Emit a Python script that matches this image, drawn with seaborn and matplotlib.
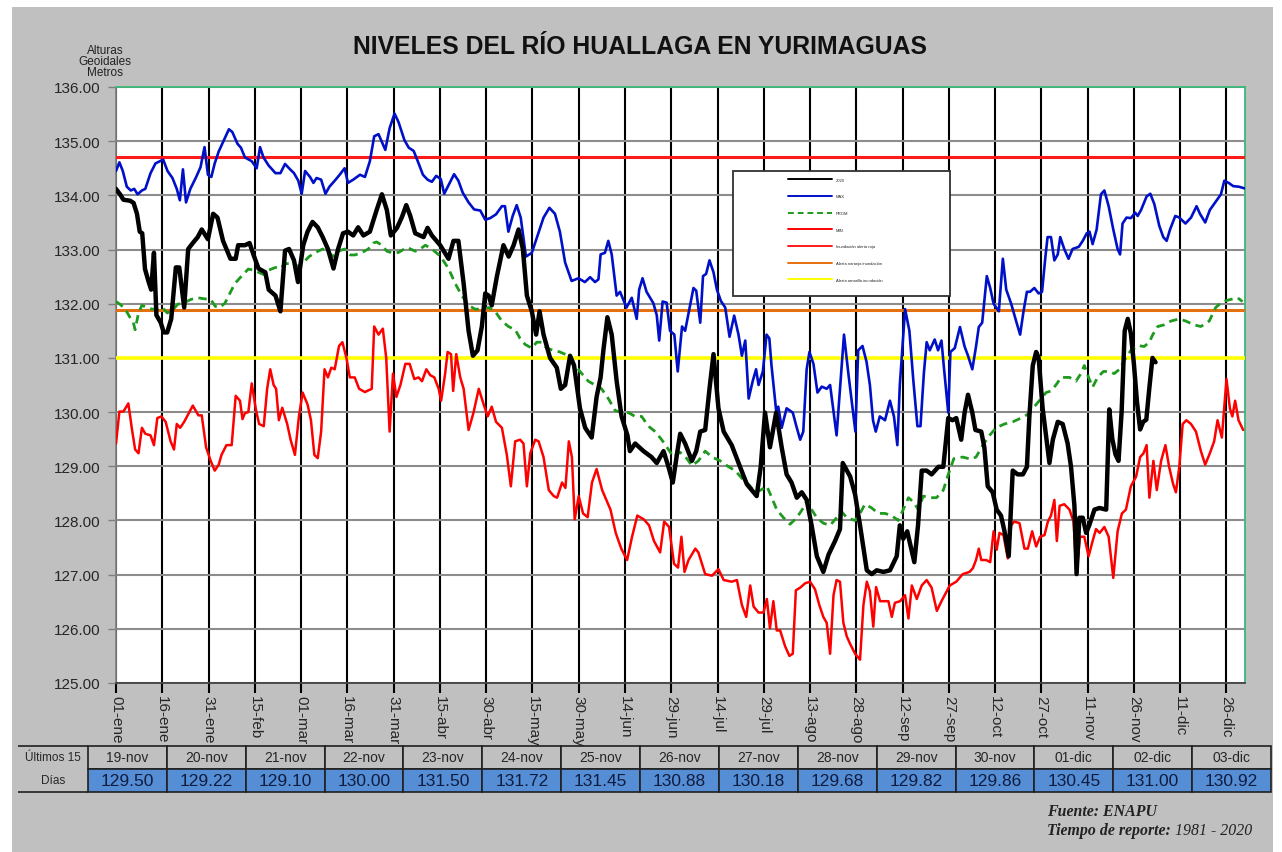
import matplotlib
matplotlib.use("Agg")
import matplotlib.pyplot as plt
import seaborn as sns
import pandas as pd
from matplotlib.patches import Rectangle
from matplotlib import font_manager

# ---------------- data ----------------
dias_2020 = [0, 1.3, 2.4, 4.6, 5.7, 6.8, 7.7, 8.5, 9.4, 10.6, 11.4, 12.3, 13.1, 14.5, 15.5, 16.6, 17.9, 19.4, 20.5, 22.1,
             23.4, 24.9, 26.5, 27.8, 29.8, 31.5, 32.9, 34.7, 37.1, 38.8, 39.6, 41.8, 43.3, 44.6, 46.2, 48.4, 49.5, 51.7,
             53.3, 54.8, 56.1, 57.7, 59.0, 60.7, 62.1, 63.7, 65.4, 67.0, 68.7, 70.5, 72.0, 73.6, 75.2, 76.9, 78.5, 80.2,
             82.3, 84.5, 86.2, 87.8, 89.1, 91.1, 92.7, 94.1, 95.4, 97, 99.7, 101, 102.4, 105.1, 107.8, 109.4, 111, 112.7,
             114.3, 115.7, 117.2, 118.6, 119.7, 120.8, 121.8, 123.5, 125.6, 127.3, 128.9, 130.5, 131.9, 133.2, 134.8,
             136.2, 137.3, 138.6, 140.7, 142.9, 144.2, 145.6, 147.2, 148.5, 150.4, 152.1, 154.2, 155.8, 157.1, 158,
             159.3, 160.7, 162.3, 163.9, 165.8, 166.6, 168.3, 171, 173.6, 175.3, 177.5, 179.1, 180.5, 182, 182.9, 184.5,
             186.7, 188.1, 189.4, 191, 192.4, 193.7, 195.3, 197, 199.6, 202.3, 204.5, 207.7, 209, 210.4, 212, 214,
             215.8, 217.4, 219, 220.7, 222.3, 223.9, 225.5, 227.2, 229.3, 231, 233.1, 234.7, 235.6, 238, 239.6, 241.2,
             243.4, 245, 246.6, 248.8, 250.9, 253.1, 254.1, 255.2, 256.5, 258.8, 260, 261.2, 262.8, 264.4, 266.6,
             268.2, 269.8, 271.2, 272.4, 274, 275.1, 276.2, 277.6, 278.6, 280.5, 281.5, 282.6, 284.2, 285.5, 286.9,
             288, 289.4, 290.7, 292.3, 294, 295.3, 296.1, 297.2, 298.3, 299.1, 300.4, 302.6, 303.7, 305.3, 306.9,
             308.5, 309.6, 310.7, 311.4, 312.3, 313.4, 314.5, 315.5, 317.2, 318.8, 321, 322]
nivel_2020 = [134.12, 134.02, 133.92, 133.9, 133.86, 133.66, 133.33, 133.3, 132.64, 132.4, 132.26, 132.94, 131.79,
              131.65, 131.47, 131.47, 131.72, 132.67, 132.67, 131.93, 133.01, 133.12, 133.23, 133.37, 133.19, 133.66,
              133.59, 133.16, 132.83, 132.83, 133.08, 133.08, 133.12, 132.9, 132.65, 132.58, 132.26, 132.15, 131.86,
              132.98, 133.01, 132.8, 132.4, 133.08, 133.33, 133.51, 133.41, 133.23, 133.01, 132.65, 133.01, 133.3,
              133.33, 133.26, 133.41, 133.26, 133.33, 133.73, 134.02, 133.73, 133.26, 133.4, 133.6, 133.82, 133.62,
              133.3, 133.23, 133.4, 133.26, 133.08, 132.83, 133.16, 133.16, 132.37, 131.5, 131.04, 131.14, 131.58,
              132.19, 132.15, 131.97, 132.51, 133.08, 132.87, 133.08, 133.37, 133.01, 132.15, 131.86, 131.43, 131.86,
              131.43, 131.0, 130.82, 130.43, 130.5, 131.04, 130.86, 130.07, 129.71, 129.53, 130.28, 130.64, 131.14,
              131.75, 131.43, 130.57, 129.92, 129.57, 129.28, 129.42, 129.28, 129.17, 129.06, 129.28, 128.99, 128.7,
              129.28, 129.6, 129.42, 129.1, 129.28, 129.64, 129.67, 130.43, 131.07, 130.07, 129.64, 129.39, 128.99,
              128.67, 128.45, 128.99, 129.99, 129.35, 129.99, 129.35, 128.85, 128.7, 128.42, 128.52, 128.38, 127.91,
              127.34, 127.05, 127.37, 127.62, 127.84, 129.06, 128.81, 128.48, 127.91, 127.08, 127.01, 127.08, 127.05,
              127.08, 127.34, 127.91, 127.66, 127.8, 127.23, 127.91, 128.92, 128.92, 128.85, 128.99, 128.99, 129.89,
              129.85, 129.89, 129.49, 129.99, 130.32, 129.99, 129.67, 129.64, 129.35, 128.63, 128.52, 128.2, 128.09,
              127.81, 127.34, 128.92, 128.85, 128.85, 128.99, 129.92, 130.86, 131.11, 131.0, 130.07, 129.06, 129.49,
              129.82, 129.78, 129.42, 128.99, 128.27, 127.01, 128.05, 128.05, 127.77, 127.91, 128.2, 128.23, 128.2,
              130.05]

dias_max = [0, 1.1, 2.2, 3.5, 4.8, 5.9, 7, 8.4, 9.5, 11.2, 12.8, 14.2, 15.3, 16.7, 18.3, 19.7, 20.7, 21.7, 22.7, 24.1,
            26, 27.4, 28.7, 29.8, 30.9, 32, 33.3, 35, 36.6, 37.7, 39.4, 40.5, 41.8, 44, 45.6, 46.7, 47.8, 49.5, 51.7,
            53.3, 54.8, 56.1, 57.7, 59.1, 60.2, 61.3, 62.9, 64, 65, 66.5, 67.9, 69.2, 71.2, 72.5, 74.1, 75.2, 76.9,
            79.1, 80.7, 82.3, 83.7, 85.1, 87.3, 88.7, 90.3, 91.6, 93.5, 94.9, 96.5, 98.1, 99.5, 101, 102.4, 103.8,
            105.3, 106.4, 108.1, 109.6, 111, 112.4, 114.3, 116.1, 118.1, 119.7, 121.3, 123.2, 125.1, 126.1, 127.2,
            128.6, 129.9, 131.2, 132.9, 134.8, 136.9, 138.6, 140.5, 142.3, 143.9, 145.6, 147.7, 149.9, 152, 153.7,
            155.3, 156.4, 157.1, 158.5, 159.6, 160.7, 162.3, 163.4, 165.5, 167.2, 168.8, 169.6, 170.7, 172, 174.2,
            175.3, 176.1, 177.2, 178.5, 179.6, 181, 182.1, 183.5, 184.5, 185.6, 187.2, 188.1, 189.4, 190.3, 191.3,
            192.4, 193.7, 194.8, 196.1, 197.5, 198.9, 200.4, 201.8, 202.9, 204, 205.1, 206.4, 207.5, 208.3, 209.7,
            210.9, 211.8, 212.5, 214, 214.7, 215.8, 217.4, 219.4, 220.7, 221.8, 222.8, 223.9, 224.8, 226.1, 227.4,
            228.8, 230.4, 231.5, 232.8, 233.6, 235, 236, 237.4, 238.5, 239.7, 240.6, 242, 243.3, 244.4, 245.4, 246.3,
            247.6, 249.3, 250.9, 252.2, 253.3, 254.1, 255.8, 257.2, 258.5, 259.8, 260.8, 261.9, 262.8, 263.8, 265.4,
            266.5, 267.6, 268.4, 269.8, 270.5, 271.9, 273.6, 275.1, 276.2, 277.6, 278.8, 279.7, 280.8, 282.3, 283.4,
            284.5, 286.2, 287.5, 288.6, 290.2, 291.8, 293.1, 294.2, 295.3, 296.3, 297.7, 299.1, 300.2, 301.3, 302,
            303.1, 304.2, 305.3, 306.1, 307.4, 308.8, 310.1, 312.1, 313.4, 314.7, 315.6, 316.6, 317.9, 319.3, 320.4,
            321.8, 323.3, 324.7, 325.5, 326.3, 327.6, 329, 330.4, 331.2, 332.3, 334.1, 335.3, 336.6, 338.2, 339.5,
            340.6, 341.7, 343.4, 344.7, 346.7, 348.5, 350.3, 351.4, 353.1, 354.6, 356.6, 358.2, 359.3, 360.7, 362.2,
            364, 365.8]
nivel_max = [134.45, 134.61, 134.45, 134.16, 134.09, 134.12, 134.02, 134.09, 134.12, 134.41, 134.59, 134.63, 134.66,
             134.45, 134.32, 134.12, 133.91, 134.48, 133.87, 134.12, 134.34, 134.52, 134.89, 134.38, 134.34, 134.59,
             134.81, 135.02, 135.22, 135.17, 134.95, 134.88, 134.7, 134.63, 134.5, 134.89, 134.7, 134.55, 134.41,
             134.41, 134.58, 134.5, 134.41, 134.27, 134.03, 134.45, 134.34, 134.23, 134.32, 134.29, 134.03, 134.16,
             134.29, 134.38, 134.5, 134.23, 134.29, 134.38, 134.34, 134.63, 135.09, 135.13, 134.84, 135.24, 135.51,
             135.35, 135.02, 134.88, 134.82, 134.59, 134.38, 134.29, 134.25, 134.36, 134.3, 134.03, 134.22, 134.39,
             134.27, 134.05, 133.87, 133.74, 133.72, 133.55, 133.58, 133.65, 133.8, 133.8, 133.33, 133.62, 133.82,
             133.59, 132.87, 132.94, 133.3, 133.59, 133.77, 133.66, 133.33, 132.76, 132.42, 132.47, 132.4, 132.49,
             132.4, 132.45, 132.91, 132.94, 133.16, 132.91, 132.15, 132.22, 131.93, 132.11, 131.72, 132.26, 132.47,
             132.22, 132.01, 131.79, 131.32, 132.04, 132.02, 131.5, 131.43, 130.75, 131.58, 131.5, 131.82, 132.29,
             132.24, 131.65, 132.51, 132.55, 132.8, 132.58, 132.26, 132.05, 131.93, 131.39, 131.78, 131.43, 131.04,
             131.32, 130.25, 130.57, 130.79, 130.5, 130.75, 131.43, 131.36, 130.86, 130.03, 130.1, 129.71, 130.07,
             129.99, 129.71, 129.49, 129.64, 130.79, 131.11, 130.89, 130.36, 130.47, 130.43, 130.5, 129.92, 129.57,
             130.64, 131.43, 130.72, 130.21, 129.64, 131.14, 131.22, 130.93, 130.5, 129.85, 129.64, 129.92, 129.85,
             130.21, 129.92, 129.39, 130.5, 131.9, 131.5, 130.57, 129.74, 129.74, 130.72, 131.29, 131.14, 131.34,
             131.14, 131.32, 130.82, 129.99, 131.11, 131.18, 131.57, 131.21, 131.04, 130.79, 131.21, 131.57, 131.65,
             132.51, 132.29, 132.0, 131.86, 132.83, 132.26, 132.0, 131.68, 131.43, 131.86, 132.22, 132.22, 132.29,
             132.19, 132.22, 132.87, 133.23, 133.23, 132.8, 132.91, 133.23, 133.01, 132.83, 133.01, 133.05, 133.16,
             133.3, 133.33, 133.1, 133.37, 134.02, 134.09, 133.8, 133.37, 133.01, 132.91, 133.48, 133.59, 133.58,
             133.68, 133.62, 133.73, 133.98, 134.03, 133.84, 133.44, 133.23, 133.16, 133.37, 133.62, 133.59, 133.48,
             133.59, 133.8, 133.66, 133.5, 133.73, 133.89, 134.02, 134.27, 134.23, 134.17, 134.16, 134.13]

dias_prom = [0, 1.3, 3, 4.4, 5.5, 6.2, 7.3, 8.4, 10.1, 11.7, 13.4, 15, 16.6, 18.3, 20, 22.1, 24.3, 26.5, 28.7, 30.7,
             32.2, 33.6, 35.3, 36.9, 38.5, 40.7, 42.9, 44.6, 46.2, 47.8, 49.5, 51.7, 53.3, 54.9, 57.2, 58.8, 60.7,
             62.6, 64.8, 67, 68.7, 70.3, 72, 74.1, 76, 77.4, 79.6, 81.8, 83.4, 84.5, 86.2, 87.8, 90, 91.7, 94.3, 97,
             98.6, 100.3, 102.4, 105.1, 107.8, 110, 112.1, 114.3, 116.4, 118.6, 120.8, 122.9, 125.1, 127.2, 129.4,
             131, 132.6, 134.8, 136.4, 138, 139.6, 141.8, 143.9, 146.7, 148.8, 151, 153.1, 155.3, 157.4, 159.6,
             161.8, 163.9, 166.1, 168.3, 170.4, 172.6, 174.8, 176.9, 179.1, 180.7, 182.8, 185.1, 186.7, 188.8, 191,
             193.2, 195.9, 198.6, 200.7, 202.9, 205, 207.2, 209, 211, 212.6, 214.2, 216.4, 218.5, 220.7, 222.8, 224.1,
             225.5, 227.2, 229.3, 231.5, 233.6, 235.3, 236.9, 239.6, 241.2, 242.8, 245, 247.1, 249.3, 251.4, 253.6,
             255.2, 256.9, 258.5, 260.1, 261.7, 263.8, 266, 268.2, 269.8, 271.6, 274.5, 277.2, 278.8, 281, 283.2,
             285.3, 288, 290.7, 293.4, 295.6, 297.7, 299.3, 301.5, 303.1, 304.7, 306.4, 309.1, 311.2, 312.8, 313.9,
             315.3, 316.6, 318.2, 320.1, 322, 323.6, 325.3, 326.9, 329, 331.2, 333.3, 335, 336.1, 337.7, 339.8, 342,
             344.7, 346.8, 349.5, 351.7, 354.4, 356.5, 358.7, 361.4, 363.6, 365.2]
nivel_prom = [132.04, 131.99, 131.9, 131.76, 131.68, 131.52, 131.83, 131.97, 131.93, 131.9, 131.9, 131.93, 131.83,
              131.88, 131.99, 132.02, 132.08, 132.11, 132.09, 132.08, 131.95, 131.93, 132.01, 132.19, 132.37, 132.51,
              132.64, 132.62, 132.58, 132.54, 132.62, 132.67, 132.65, 132.74, 132.74, 132.69, 132.76, 132.87, 132.95,
              133.01, 132.97, 132.87, 132.97, 133.01, 132.9, 132.9, 132.94, 133.01, 133.12, 133.14, 133.08, 132.97,
              132.93, 132.95, 133.04, 132.97, 133.01, 133.08, 133.01, 132.88, 132.65, 132.37, 132.15, 131.97, 131.9,
              131.9, 131.93, 131.86, 131.68, 131.58, 131.52, 131.36, 131.25, 131.18, 131.29, 131.29, 131.18, 131.14,
              131.11, 131.04, 130.86, 130.71, 130.57, 130.5, 130.43, 130.25, 130.03, 129.99, 129.99, 129.92, 129.92,
              129.74, 129.64, 129.49, 129.31, 129.17, 129.26, 129.14, 129.01, 129.1, 129.28, 129.17, 129.1, 128.99,
              128.92, 128.78, 128.67, 128.52, 128.56, 128.63, 128.42, 128.2, 128.05, 127.93, 128.05, 128.23, 128.38,
              128.2, 128.05, 127.95, 127.91, 128.05, 128.16, 128.05, 128.0, 128.13, 128.3, 128.23, 128.13, 128.13,
              128.09, 128.0, 128.2, 128.42, 128.34, 128.2, 128.45, 128.42, 128.42, 128.56, 128.85, 129.14, 129.17,
              129.13, 129.17, 129.39, 129.57, 129.71, 129.78, 129.82, 129.89, 129.96, 130.1, 130.21, 130.36, 130.39,
              130.5, 130.64, 130.64, 130.57, 130.71, 130.86, 130.64, 130.46, 130.64, 130.75, 130.75, 130.71, 130.79,
              130.96, 131.14, 131.23, 131.21, 131.29, 131.43, 131.58, 131.61, 131.68, 131.72, 131.68, 131.61, 131.58,
              131.68, 131.93, 132.04, 132.08, 132.11, 132.04]

dias_min = [0, 1.1, 2.4, 4, 5.1, 6.2, 7.3, 8.4, 9.5, 11.2, 12.3, 13.4, 14.7, 16.1, 17.7, 18.8, 19.7, 20.8, 22.1, 23.4,
            24.9, 26.7, 27.8, 29.2, 30.7, 32, 33.3, 34.2, 35.8, 37.5, 38.8, 40.2, 41, 41.8, 42.9, 44, 45.4, 46.4, 47.9,
            49, 50, 51.1, 51.9, 52.8, 53.9, 55.5, 56.6, 58, 59.3, 60.5, 62.1, 63.2, 64.3, 65.4, 66.5, 67.6, 68.7,
            69.8, 70.9, 72.3, 73.4, 74.7, 75.8, 77.4, 78.8, 80.7, 82.9, 83.7, 85.1, 86.5, 87.6, 88.7, 89.8, 90.9,
            92.2, 93.8, 95.2, 96.7, 98.1, 99.2, 100.6, 101.9, 103.2, 104.6, 105.4, 106.7, 107.5, 108.6, 109.3, 110.3,
            111.6, 112.7, 114.3, 115.9, 117.6, 119.2, 120.5, 121.8, 123.2, 125.1, 126.7, 128, 129.4, 131, 132.1,
            133.2, 134.3, 135.9, 137, 138.6, 140.3, 141.9, 143, 144.6, 145.7, 146.8, 147.8, 148.7, 150, 151.4, 152.9,
            154.3, 155.8, 157.6, 160.3, 162, 163.8, 165.7, 167.3, 169, 171.1, 172.8, 174.4, 176.4, 177.7, 179.3,
            180.9, 182.2, 183.3, 184.3, 185.6, 187.8, 188.8, 191, 193.2, 195.3, 197, 199.6, 201.3, 202.9, 204.3,
            205.6, 206.7, 208.3, 209.9, 211, 212, 213.1, 214.2, 215.3, 216.9, 218.3, 219.4, 220.4, 221.8, 223.4, 225,
            226.6, 228, 229.3, 230.4, 231.5, 232.6, 233.6, 234.7, 235.8, 236.9, 238, 239.6, 241.2, 242.3, 243.4,
            244.4, 245.5, 246.4, 247.7, 249.3, 250.4, 251.5, 252.5, 254.2, 255.8, 256.9, 258, 259.6, 261.2, 262.8,
            264.4, 266.1, 267.6, 269.3, 270.3, 272.4, 274.5, 276.7, 277.8, 278.8, 279.7, 280.5, 282.1, 283.4, 284.5,
            285.5, 286.4, 287.7, 289.1, 290.2, 291.2, 292.9, 294.5, 295.6, 297, 298.3, 299.6, 301, 302.1, 303.1,
            304.2, 305, 305.9, 307.4, 309.1, 310.4, 311.4, 312.5, 313.9, 315.3, 316.6, 317.7, 318.9, 320.4, 321.8,
            323.3, 324.7, 326.1, 327.4, 329, 330.7, 332, 333.1, 334.1, 335, 336.3, 337.4, 338.8, 340.2, 341.4,
            342.7, 343.6, 344.7, 345.8, 347, 348.5, 350.1, 351.7, 353.1, 354.6, 356, 357.1, 358.5, 360, 361.1,
            361.9, 362.8, 363.9, 365.4]
nivel_min = [129.42, 130.01, 130.01, 130.16, 129.71, 129.31, 129.24, 129.71, 129.6, 129.57, 129.39, 129.89, 129.92,
             129.82, 129.46, 129.31, 129.78, 129.71, 129.82, 129.96, 130.12, 129.94, 129.94, 129.35, 129.1, 128.92,
             129.03, 129.21, 129.39, 129.39, 130.3, 130.21, 129.87, 129.98, 130.0, 130.53, 130.03, 129.78, 129.74,
             130.43, 130.79, 130.5, 130.43, 129.85, 130.08, 129.78, 129.49, 129.21, 129.92, 130.36, 130.14, 129.85,
             129.21, 129.15, 129.64, 130.79, 130.64, 130.82, 130.79, 131.22, 131.29, 131.0, 130.64, 130.64, 130.43,
             130.37, 130.43, 131.58, 131.43, 131.54, 131.0, 129.64, 130.71, 130.28, 130.5, 130.89, 130.89, 130.61,
             130.64, 130.57, 130.79, 130.68, 130.64, 130.43, 130.21, 130.71, 131.11, 131.07, 130.39, 131.07, 130.64,
             130.43, 129.67, 129.99, 130.43, 130.14, 129.92, 130.1, 129.82, 129.71, 129.21, 128.63, 129.46, 129.49,
             129.42, 128.63, 129.24, 129.49, 129.46, 129.17, 128.56, 128.45, 128.42, 128.7, 128.6, 129.46, 129.17,
             128.02, 128.45, 128.13, 128.06, 128.7, 128.95, 128.56, 128.2, 127.77, 127.48, 127.27, 127.7, 128.09,
             128.02, 127.91, 127.62, 127.41, 127.98, 127.88, 127.2, 127.13, 127.7, 127.05, 127.27, 127.48, 127.41,
             127.01, 126.98, 127.1, 126.9, 126.87, 126.9, 126.44, 126.22, 126.8, 126.41, 126.3, 126.3, 126.55,
             126.01, 126.51, 125.97, 125.97, 125.68, 125.5, 125.54, 126.71, 126.76, 126.84, 126.87, 126.73, 126.44,
             126.22, 126.11, 125.54, 126.62, 126.9, 126.87, 126.11, 125.86, 125.72, 125.54, 125.43, 126.44, 126.87,
             126.69, 126.04, 126.77, 126.51, 126.51, 126.51, 126.22, 126.48, 126.51, 126.62, 126.19, 126.8, 126.55,
             126.8, 126.9, 126.76, 126.33, 126.51, 126.69, 126.8, 126.87, 127.01, 127.05, 127.12, 127.27, 127.48,
             127.27, 127.27, 127.23, 127.8, 127.46, 127.77, 127.73, 127.3, 127.91, 127.98, 127.95, 127.48, 127.48,
             127.8, 127.52, 127.7, 127.73, 127.98, 128.09, 128.38, 127.62, 128.27, 128.3, 128.2, 127.98, 127.01,
             127.7, 127.7, 127.34, 127.62, 127.84, 127.77, 127.88, 127.7, 126.94, 127.8, 128.13, 128.2, 128.63,
             128.81, 129.17, 129.24, 129.39, 128.42, 129.1, 128.56, 129.1, 129.39, 128.99, 128.67, 128.52, 128.99,
             129.78, 129.85, 129.78, 129.64, 129.28, 129.03, 129.24, 129.46, 129.85, 129.53, 130.61, 130.07, 129.92,
             130.21, 129.85, 129.67]

umbrales = [134.70, 131.88, 131.00]
umbral_etiquetas = ["Inundación alerta roja", "Alerta naranja inundación", "Alerta amarilla inundación"]

fechas_tick = ["01-ene", "16-ene", "31-ene", "15-feb", "01-mar", "16-mar", "31-mar", "15-abr", "30-abr", "15-may",
               "30-may", "14-jun", "29-jun", "14-jul", "29-jul", "13-ago", "28-ago", "12-sep", "27-sep", "12-oct",
               "27-oct", "11-nov", "26-nov", "11-dic", "26-dic"]
dias_tick = [15 * i for i in range(len(fechas_tick))]

ultimas_fechas = ["19-nov", "20-nov", "21-nov", "22-nov", "23-nov", "24-nov", "25-nov", "26-nov", "27-nov", "28-nov",
                  "29-nov", "30-nov", "01-dic", "02-dic", "03-dic"]
ultimos_valores = [129.50, 129.22, 129.10, 130.00, 131.50, 131.72, 131.45, 130.88, 130.18, 129.68, 129.82, 129.86,
                   130.45, 131.00, 130.92]
dia_19nov = 323  # day index of 19-nov in 2020 (leap year)

# ---------------- style ----------------
sns.set_theme(style="white")
plt.rcParams["font.family"] = ["Liberation Sans", "DejaVu Sans"]


def has_font(name):
    try:
        font_manager.findfont(name, fallback_to_default=False)
        return True
    except Exception:
        return False


narrow = ["Liberation Sans Narrow", "Liberation Sans", "DejaVu Sans"] if has_font("Liberation Sans Narrow") \
    else ["Liberation Sans", "DejaVu Sans"]

W, H = 1282, 853
fig = plt.figure(figsize=(W / 100, H / 100), dpi=100, facecolor="white")
bg = Rectangle((12 / W, 0), (1273 - 12) / W, 1 - 8 / H, transform=fig.transFigure,
               facecolor="#c0c0c0", edgecolor="none", zorder=-10)
fig.patches.append(bg)

ax = fig.add_axes([116 / W, 1 - 684 / H, (1245 - 116) / W, (684 - 88) / H])
ax.set_facecolor("white")

d2020 = pd.DataFrame({"dia": dias_2020 + [dia_19nov + i for i in range(len(ultimos_valores))],
                      "nivel": nivel_2020 + ultimos_valores})
dmax = pd.DataFrame({"dia": dias_max, "nivel": nivel_max})
dprom = pd.DataFrame({"dia": dias_prom, "nivel": nivel_prom})
dmin = pd.DataFrame({"dia": dias_min, "nivel": nivel_min})

sns.lineplot(data=d2020, x="dia", y="nivel", ax=ax, color="black", lw=3.2, label="2020", zorder=6, estimator=None)
sns.lineplot(data=dmax, x="dia", y="nivel", ax=ax, color="#0010c8", lw=1.9, label="MAX", zorder=5, estimator=None)
sns.lineplot(data=dprom, x="dia", y="nivel", ax=ax, color="#1e9a1e", lw=2.0, linestyle=(0, (3, 2)),
             label="PROM", zorder=5, estimator=None)
sns.lineplot(data=dmin, x="dia", y="nivel", ax=ax, color="#ff0000", lw=1.8, label="MIN", zorder=5, estimator=None)
for val, lab, col, lw in zip(umbrales, umbral_etiquetas, ["#ff1a1a", "#e5700f", "#ffff00"], [2.2, 2.2, 2.6]):
    ax.axhline(val, color=col, lw=lw, label=lab, zorder=3)

ax.set_xlim(0, 366)
ax.set_ylim(125, 136)
ax.set_xticks(dias_tick)
ax.set_xticklabels(fechas_tick, rotation=270, ha="center", va="top", fontsize=11)
ax.set_yticks(range(125, 137))
ax.set_yticklabels([f"{v:.2f}" for v in range(125, 137)], fontsize=11)
ax.tick_params(axis="x", length=7, width=1.5, color="black", pad=2, bottom=True)
ax.tick_params(axis="y", length=6, width=1, color="#808080", pad=5, left=True)
ax.set_xlabel("")
ax.set_ylabel("")
ax.grid(axis="y", color="#8c8c8c", lw=1.5)
ax.grid(axis="x", color="black", lw=1.5)
ax.set_axisbelow(True)
for s in ["top", "right"]:
    ax.spines[s].set_color("#3cb878")
    ax.spines[s].set_linewidth(1.3)
ax.spines["left"].set_color("#808080")
ax.spines["bottom"].set_color("#404040")

# legend box + legend
ax.add_patch(Rectangle((0.5465, 0.6493), 0.1922, 0.2097, transform=ax.transAxes, facecolor="white",
                       edgecolor="#303030", lw=1.3, zorder=7))
leg = ax.legend(loc="upper left", bbox_to_anchor=(0.5952, 0.848), fontsize=3, frameon=False, handlelength=10.5,
                handletextpad=1.0, labelspacing=3.05, borderpad=0, borderaxespad=0)
leg.set_zorder(8)
for ln in leg.get_lines():
    ln.set_linewidth(1.4)

# titles
fig.text(640 / W, 1 - 47 / H, "NIVELES DEL RÍO HUALLAGA EN YURIMAGUAS", ha="center", va="center",
         fontsize=17.8, fontweight="bold", color="#111111")
fig.text(105 / W, 1 - 62 / H, "Alturas\nGeoidales\nMetros", ha="center", va="center", fontsize=8.5,
         linespacing=0.88, color="#222222", family=narrow)

# table
tab_ax = fig.add_axes([18 / W, 1 - 793 / H, (1271 - 18) / W, (793 - 747) / H])
tab_ax.axis("off")
cell_text = [["Últimos 15"] + ultimas_fechas, ["Días"] + [f"{v:.2f}" for v in ultimos_valores]]
colors = [["#c0c0c0"] * 16, ["#c0c0c0"] + ["#558ed5"] * 15]
lab_w = 70
col_w = (1271 - 18 - lab_w) / 15
widths = [lab_w / (1271 - 18)] + [col_w / (1271 - 18)] * 15
tbl = tab_ax.table(cellText=cell_text, cellColours=colors, colWidths=widths, cellLoc="center", bbox=[0, 0, 1, 1])
tbl.auto_set_font_size(False)
for (r, c), cell in tbl.get_celld().items():
    cell.set_edgecolor("#202020")
    cell.set_linewidth(1.2)
    txt = cell.get_text()
    if c == 0:
        cell.visible_edges = "T" if r == 0 else "B"
        txt.set_fontsize(8.5)
        txt.set_fontfamily(["Liberation Sans", "DejaVu Sans"])
    elif r == 0:
        txt.set_fontsize(10)
        txt.set_fontfamily(narrow)
    else:
        txt.set_fontsize(12.5)
        txt.set_fontfamily(narrow)
        txt.set_color("#101c40")

# footer
serif = ["Liberation Serif", "DejaVu Serif"]
fig.text(1047 / W, 1 - 812 / H, "Fuente: ENAPU", ha="left", va="center", fontsize=11.4, fontweight="bold",
         fontstyle="italic", family=serif, color="#222222")
t1 = fig.text(1047 / W, 1 - 831 / H, "Tiempo de reporte: ", ha="left", va="center", fontsize=11.4,
              fontweight="bold", fontstyle="italic", family=serif, color="#222222")
fig.canvas.draw()
bb = t1.get_window_extent()
fig.text(bb.x1 / W, 1 - 831 / H, "1981 - 2020", ha="left", va="center", fontsize=11.4, fontstyle="italic",
         family=serif, color="#222222")

fig.savefig("out.png", dpi=100, facecolor=fig.get_facecolor())
